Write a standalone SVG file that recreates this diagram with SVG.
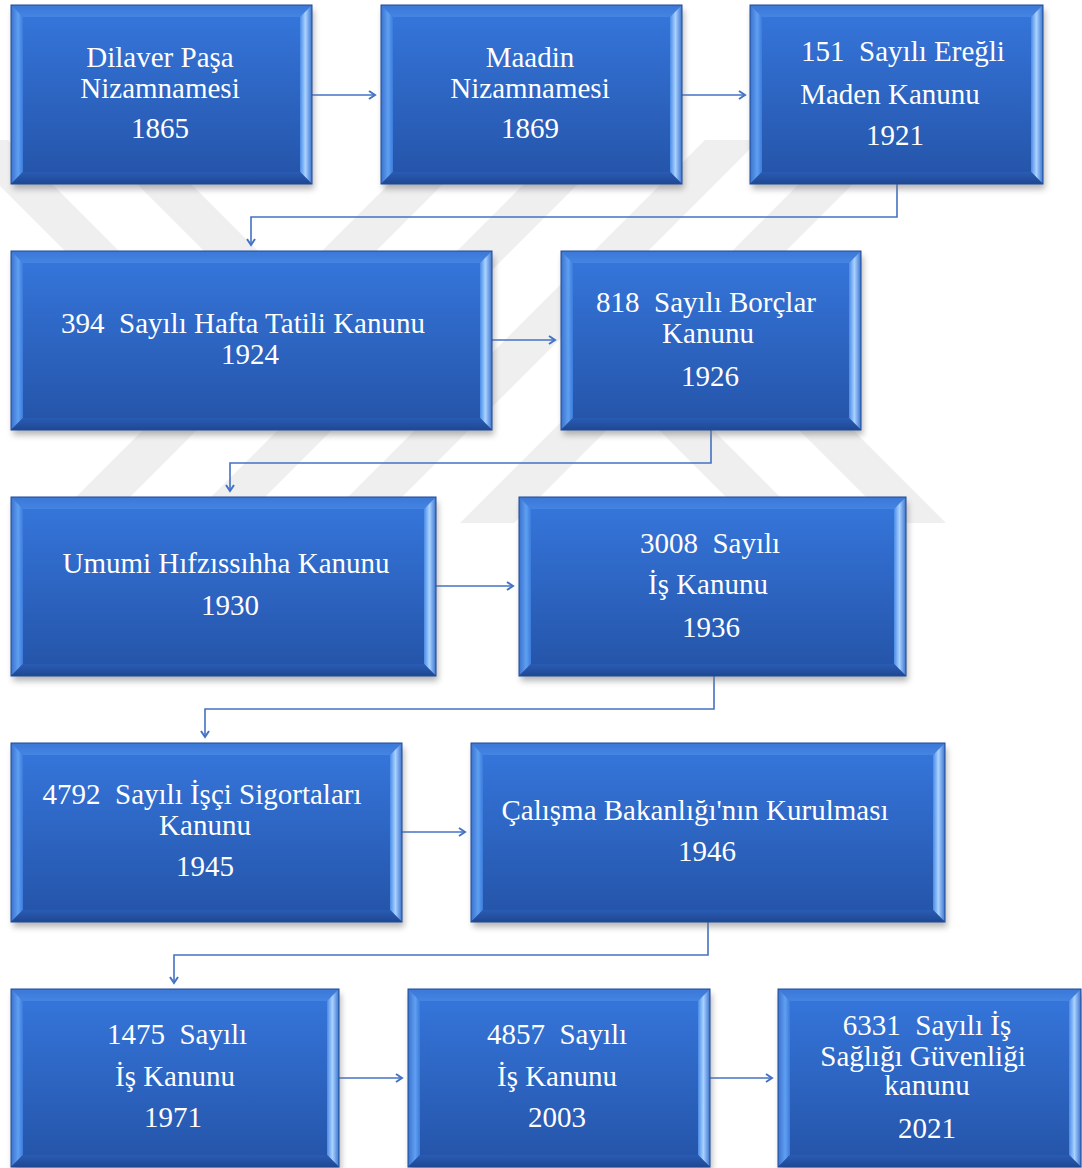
<svg xmlns="http://www.w3.org/2000/svg" width="1082" height="1168" viewBox="0 0 1082 1168">
<defs>
<linearGradient id="gFace" x1="0" y1="0" x2="0" y2="1"><stop offset="0" stop-color="#3677dd"/><stop offset="1" stop-color="#2453a7"/></linearGradient>
<linearGradient id="gR" x1="0" y1="0" x2="1" y2="0"><stop offset="0" stop-color="#4a8be6"/><stop offset="0.45" stop-color="#a9d2ff"/><stop offset="1" stop-color="#3b73cf"/></linearGradient>
<linearGradient id="gL" x1="0" y1="0" x2="1" y2="0"><stop offset="0" stop-color="#3a72cf"/><stop offset="0.6" stop-color="#5f9ff0"/><stop offset="1" stop-color="#3b7bdc"/></linearGradient>
<linearGradient id="gT" x1="0" y1="0" x2="0" y2="1"><stop offset="0" stop-color="#3b78d8"/><stop offset="1" stop-color="#4484e2"/></linearGradient>
<linearGradient id="gB" x1="0" y1="0" x2="0" y2="1"><stop offset="0" stop-color="#2a5cb4"/><stop offset="1" stop-color="#1d4793"/></linearGradient>
<filter id="sh" x="-10%" y="-10%" width="120%" height="130%"><feGaussianBlur stdDeviation="3"/></filter>
<marker id="arr" markerUnits="userSpaceOnUse" markerWidth="12" markerHeight="12" refX="7" refY="5" orient="auto"><path d="M1,1 L7,5 L1,9" fill="none" stroke="#4472c4" stroke-width="2"/></marker>
</defs>
<style>
.wm{fill:#efefef}
.sh{fill:#7a7a7a;opacity:0.55;filter:url(#sh)}
.face{fill:url(#gFace)}
.bt{fill:url(#gT)}
.bl{fill:url(#gL)}
.br{fill:url(#gR)}
.bb{fill:url(#gB)}
.ol{fill:none;stroke:#1f4a96;stroke-width:1}
.lbl{font-size:29px;fill:#ffffff;text-anchor:middle;white-space:pre}
.con{fill:none;stroke:#4472c4;stroke-width:1.6;marker-end:url(#arr)}
</style>
<rect x="0" y="0" width="1082" height="1168" fill="#ffffff"/>
<g id="watermark">
<polygon class="wm" points="433,140 487,140 104,523 50,523"/>
<polygon class="wm" points="568,140 622,140 239,523 185,523"/>
<polygon class="wm" points="705,140 759,140 376,523 322,523"/>
<polygon class="wm" points="843,140 897,140 514,523 460,523"/>
<polygon class="wm" points="-46,140 8,140 248,380 194,380"/>
<polygon class="wm" points="93,140 147,140 387,380 333,380"/>
<polygon class="wm" points="564,335 618,335 806,523 752,523"/>
<polygon class="wm" points="704,335 758,335 946,523 892,523"/>
</g>
<g id="connectors">
<path class="con" d="M312,95 H375"/>
<path class="con" d="M682,95 H745"/>
<path class="con" d="M897,184 V217 H251 V245"/>
<path class="con" d="M492,340 H555"/>
<path class="con" d="M711,430 V463 H230 V491"/>
<path class="con" d="M436,586 H513"/>
<path class="con" d="M714,675 V709 H205 V737"/>
<path class="con" d="M402,832 H465"/>
<path class="con" d="M708,921 V955 H174 V983"/>
<path class="con" d="M339,1078 H402"/>
<path class="con" d="M710,1078 H772"/>
</g>
<g font-family="Liberation Serif, Times New Roman, serif">
<g id="n1">
<g transform="translate(11,5)"><rect class="sh" x="2" y="5" width="301" height="179"/><rect class="face" width="301" height="179"/><polygon class="bt" points="0,0 301,0 289,12 12,12"/><polygon class="bl" points="0,0 12,12 12,167 0,179"/><polygon class="br" points="301,0 301,179 289,167 289,12"/><polygon class="bb" points="0,179 12,167 289,167 301,179"/><rect class="ol" width="301" height="179"/></g>
<text class="lbl" font-family="Liberation Serif, serif"><tspan x="160" y="67">Dilaver Paşa</tspan><tspan x="160" y="98">Nizamnamesi</tspan><tspan x="160" y="138">1865</tspan></text>
</g>
<g id="n2">
<g transform="translate(381,5)"><rect class="sh" x="2" y="5" width="301" height="179"/><rect class="face" width="301" height="179"/><polygon class="bt" points="0,0 301,0 289,12 12,12"/><polygon class="bl" points="0,0 12,12 12,167 0,179"/><polygon class="br" points="301,0 301,179 289,167 289,12"/><polygon class="bb" points="0,179 12,167 289,167 301,179"/><rect class="ol" width="301" height="179"/></g>
<text class="lbl" font-family="Liberation Serif, serif"><tspan x="530" y="67">Maadin</tspan><tspan x="530" y="98">Nizamnamesi</tspan><tspan x="530" y="138">1869</tspan></text>
</g>
<g id="n3">
<g transform="translate(750,5)"><rect class="sh" x="2" y="5" width="293" height="179"/><rect class="face" width="293" height="179"/><polygon class="bt" points="0,0 293,0 281,12 12,12"/><polygon class="bl" points="0,0 12,12 12,167 0,179"/><polygon class="br" points="293,0 293,179 281,167 281,12"/><polygon class="bb" points="0,179 12,167 281,167 293,179"/><rect class="ol" width="293" height="179"/></g>
<text class="lbl" font-family="Liberation Serif, serif"><tspan x="903" y="61">151  Sayılı Ereğli</tspan><tspan x="890" y="104">Maden Kanunu</tspan><tspan x="895" y="145">1921</tspan></text>
</g>
<g id="n4">
<g transform="translate(11,251)"><rect class="sh" x="2" y="5" width="481" height="179"/><rect class="face" width="481" height="179"/><polygon class="bt" points="0,0 481,0 469,12 12,12"/><polygon class="bl" points="0,0 12,12 12,167 0,179"/><polygon class="br" points="481,0 481,179 469,167 469,12"/><polygon class="bb" points="0,179 12,167 469,167 481,179"/><rect class="ol" width="481" height="179"/></g>
<text class="lbl" font-family="Liberation Serif, serif"><tspan x="243" y="333">394  Sayılı Hafta Tatili Kanunu</tspan><tspan x="250" y="364">1924</tspan></text>
</g>
<g id="n5">
<g transform="translate(561,251)"><rect class="sh" x="2" y="5" width="300" height="179"/><rect class="face" width="300" height="179"/><polygon class="bt" points="0,0 300,0 288,12 12,12"/><polygon class="bl" points="0,0 12,12 12,167 0,179"/><polygon class="br" points="300,0 300,179 288,167 288,12"/><polygon class="bb" points="0,179 12,167 288,167 300,179"/><rect class="ol" width="300" height="179"/></g>
<text class="lbl" font-family="Liberation Serif, serif"><tspan x="706" y="312">818  Sayılı Borçlar</tspan><tspan x="708" y="343">Kanunu</tspan><tspan x="710" y="386">1926</tspan></text>
</g>
<g id="n6">
<g transform="translate(11,497)"><rect class="sh" x="2" y="5" width="425" height="179"/><rect class="face" width="425" height="179"/><polygon class="bt" points="0,0 425,0 413,12 12,12"/><polygon class="bl" points="0,0 12,12 12,167 0,179"/><polygon class="br" points="425,0 425,179 413,167 413,12"/><polygon class="bb" points="0,179 12,167 413,167 425,179"/><rect class="ol" width="425" height="179"/></g>
<text class="lbl" font-family="Liberation Serif, serif"><tspan x="226" y="573">Umumi Hıfzıssıhha Kanunu</tspan><tspan x="230" y="615">1930</tspan></text>
</g>
<g id="n7">
<g transform="translate(519,497)"><rect class="sh" x="2" y="5" width="387" height="179"/><rect class="face" width="387" height="179"/><polygon class="bt" points="0,0 387,0 375,12 12,12"/><polygon class="bl" points="0,0 12,12 12,167 0,179"/><polygon class="br" points="387,0 387,179 375,167 375,12"/><polygon class="bb" points="0,179 12,167 375,167 387,179"/><rect class="ol" width="387" height="179"/></g>
<text class="lbl" font-family="Liberation Serif, serif"><tspan x="710" y="553">3008  Sayılı</tspan><tspan x="708" y="594">İş Kanunu</tspan><tspan x="711" y="637">1936</tspan></text>
</g>
<g id="n8">
<g transform="translate(11,743)"><rect class="sh" x="2" y="5" width="391" height="179"/><rect class="face" width="391" height="179"/><polygon class="bt" points="0,0 391,0 379,12 12,12"/><polygon class="bl" points="0,0 12,12 12,167 0,179"/><polygon class="br" points="391,0 391,179 379,167 379,12"/><polygon class="bb" points="0,179 12,167 379,167 391,179"/><rect class="ol" width="391" height="179"/></g>
<text class="lbl" font-family="Liberation Serif, serif"><tspan x="202" y="804">4792  Sayılı İşçi Sigortaları</tspan><tspan x="205" y="835">Kanunu</tspan><tspan x="205" y="876">1945</tspan></text>
</g>
<g id="n9">
<g transform="translate(471,743)"><rect class="sh" x="2" y="5" width="474" height="179"/><rect class="face" width="474" height="179"/><polygon class="bt" points="0,0 474,0 462,12 12,12"/><polygon class="bl" points="0,0 12,12 12,167 0,179"/><polygon class="br" points="474,0 474,179 462,167 462,12"/><polygon class="bb" points="0,179 12,167 462,167 474,179"/><rect class="ol" width="474" height="179"/></g>
<text class="lbl" font-family="Liberation Serif, serif"><tspan x="695" y="820">Çalışma Bakanlığı'nın Kurulması</tspan><tspan x="707" y="861">1946</tspan></text>
</g>
<g id="n10">
<g transform="translate(11,989)"><rect class="sh" x="2" y="5" width="328" height="178"/><rect class="face" width="328" height="178"/><polygon class="bt" points="0,0 328,0 316,12 12,12"/><polygon class="bl" points="0,0 12,12 12,166 0,178"/><polygon class="br" points="328,0 328,178 316,166 316,12"/><polygon class="bb" points="0,178 12,166 316,166 328,178"/><rect class="ol" width="328" height="178"/></g>
<text class="lbl" font-family="Liberation Serif, serif"><tspan x="177" y="1044">1475  Sayılı</tspan><tspan x="175" y="1086">İş Kanunu</tspan><tspan x="173" y="1127">1971</tspan></text>
</g>
<g id="n11">
<g transform="translate(408,989)"><rect class="sh" x="2" y="5" width="302" height="178"/><rect class="face" width="302" height="178"/><polygon class="bt" points="0,0 302,0 290,12 12,12"/><polygon class="bl" points="0,0 12,12 12,166 0,178"/><polygon class="br" points="302,0 302,178 290,166 290,12"/><polygon class="bb" points="0,178 12,166 290,166 302,178"/><rect class="ol" width="302" height="178"/></g>
<text class="lbl" font-family="Liberation Serif, serif"><tspan x="557" y="1044">4857  Sayılı</tspan><tspan x="557" y="1086">İş Kanunu</tspan><tspan x="557" y="1127">2003</tspan></text>
</g>
<g id="n12">
<g transform="translate(778,989)"><rect class="sh" x="2" y="5" width="303" height="178"/><rect class="face" width="303" height="178"/><polygon class="bt" points="0,0 303,0 291,12 12,12"/><polygon class="bl" points="0,0 12,12 12,166 0,178"/><polygon class="br" points="303,0 303,178 291,166 291,12"/><polygon class="bb" points="0,178 12,166 291,166 303,178"/><rect class="ol" width="303" height="178"/></g>
<text class="lbl" font-family="Liberation Serif, serif"><tspan x="927" y="1035">6331  Sayılı İş</tspan><tspan x="923" y="1066">Sağlığı Güvenliği</tspan><tspan x="927" y="1095">kanunu</tspan><tspan x="927" y="1138">2021</tspan></text>
</g>
</g>
</svg>
